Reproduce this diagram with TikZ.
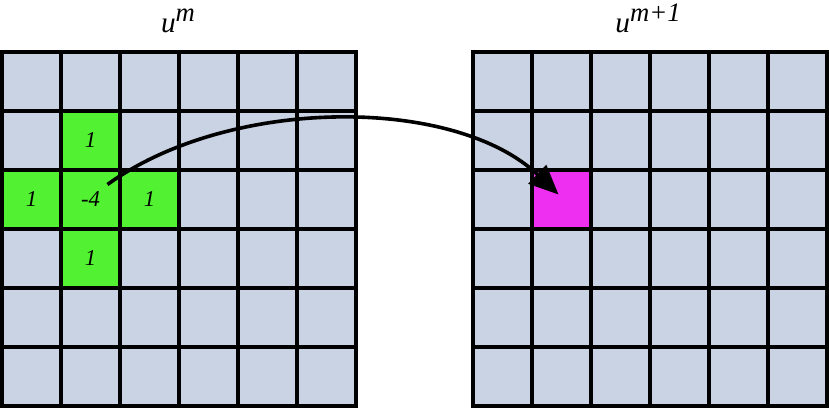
\documentclass[tikz,border=0pt]{standalone}
\usepackage{fontspec}
\setmainfont{Liberation Serif}
\usetikzlibrary{arrows.meta}
\definecolor{cellblue}{HTML}{CAD3E3}
\definecolor{cellgreen}{HTML}{52F232}
\definecolor{cellmag}{HTML}{EE2EF0}
\begin{document}
\begin{tikzpicture}[x=0.75pt,y=-0.75pt,
  cell/.style={draw=black, line width=2.5pt, fill=cellblue, minimum size=44.25pt, inner sep=0pt, outer sep=0pt,
     font=\fontsize{17}{17}\selectfont\itshape},
  green/.style={fill=cellgreen},
  mag/.style={fill=cellmag},
  title/.style={font=\fontsize{22}{22}\selectfont\itshape, inner sep=0pt, anchor=base},
  flow/.style={line width=2.7pt, -{Triangle[length=22pt,width=19pt]}}]
\useasboundingbox (0,0) rectangle (829,409);
% grids
\foreach \i in {0,...,5}{
  \foreach \j in {0,...,5}{
    \node[cell] (L-\i-\j) at (2+59*\i+29.5, 52+59*\j+29.5) {};
    \node[cell] (R-\i-\j) at (473+59*\i+29.5, 52+59*\j+29.5) {};
  }
}
\node[cell,green] (L-1-1) at (2+59+29.5, 52+59+29.5) {1};
\node[cell,green] (L-0-2) at (2+29.5, 52+118+29.5) {1};
\node[cell,green] (L-1-2) at (2+59+29.5, 52+118+29.5) {-4};
\node[cell,green] (L-2-2) at (2+118+29.5, 52+118+29.5) {1};
\node[cell,green] (L-1-3) at (2+59+29.5, 52+177+29.5) {1};
\node[cell,mag] (R-1-2) at (473+59+29.5, 52+118+29.5) {};
% titles
\node[title] (tl) at (178,33) {u\raisebox{0.38em}{\fontsize{20}{20}\selectfont m}};
\node[title] (tr) at (648,33) {u\raisebox{0.38em}{\fontsize{20}{20}\selectfont m+1}};
% arrow
\coordinate (s) at ([shift={(17,-15)}]L-1-2.center);
\coordinate (e) at ([shift={(-3,-5)}]R-1-2.center);
\draw[flow] (s) .. controls (230,96) and (455,96) .. (e);
\end{tikzpicture}
\end{document}
